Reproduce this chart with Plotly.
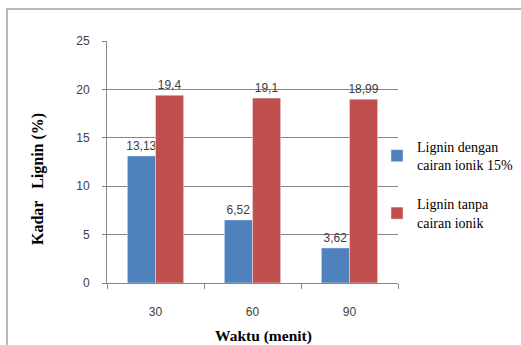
import plotly.graph_objects as go

categories = ["30", "60", "90"]
lignin_dengan = [13.13, 6.52, 3.62]
lignin_tanpa = [19.4, 19.1, 18.99]
series_names = ["Lignin dengan<br>cairan ionik 15%", "Lignin tanpa<br>cairan ionik"]
y_ticks = [0, 5, 10, 15, 20, 25]

def fmt(v):
    return f"{v:g}".replace(".", ",")

label_font = dict(family="Liberation Sans", size=12, color="#404040")
serif = "Liberation Serif"

fig = go.Figure()
fig.add_trace(go.Bar(
    x=categories, y=lignin_dengan, name=series_names[0], legendgroup="a",
    marker=dict(color="#4F81BD"),
    text=[fmt(v) for v in lignin_dengan], textposition="outside",
    textfont=label_font, cliponaxis=False, constraintext="none",
))
fig.add_trace(go.Bar(
    x=categories, y=lignin_tanpa, name=series_names[1], legendgroup="b",
    marker=dict(color="#C0504D"),
    text=[fmt(v) for v in lignin_tanpa], textposition="outside",
    textfont=label_font, cliponaxis=False, constraintext="none",
))

L, R, T, B = 107, 123, 41, 62
W, H = 521, 345
pw, ph = W - L - R, H - T - B

def px2x(px):
    return (px - L) / pw

def py2y(py):
    return (H - B - py) / ph

fig.update_layout(
    width=W, height=H,
    margin=dict(l=L, r=R, t=T, b=B, autoexpand=False),
    paper_bgcolor="white", plot_bgcolor="white",
    barmode="group", bargap=0.42, bargroupgap=0,
    showlegend=True,
    legend=dict(
        xref="container", yref="container",
        x=377 / W, y=1 - 131 / H, xanchor="left", yanchor="top",
        font=dict(family=serif, size=14, color="#000000"),
        itemwidth=30, traceorder="grouped", tracegroupgap=18,
        bgcolor="rgba(0,0,0,0)",
    ),
    xaxis=dict(
        type="category", showgrid=False,
        showline=True, linecolor="#868686", linewidth=1,
        ticks="outside", ticklen=5, tickcolor="#868686", tickson="boundaries",
        tickfont=label_font, ticklabelstandoff=18,
    ),
    yaxis=dict(
        range=[0, 25], tickvals=y_ticks,
        showgrid=True, gridcolor="#868686", gridwidth=1,
        showline=True, linecolor="#868686", linewidth=1,
        ticks="outside", ticklen=4, tickcolor="#868686",
        tickfont=label_font, ticklabelstandoff=10,
        zeroline=False,
    ),
    annotations=[
        dict(text="<b>Kadar   Lignin (%)</b>", textangle=-90, x=px2x(38), y=py2y(179),
             xref="paper", yref="paper", xanchor="center", yanchor="middle", showarrow=False,
             font=dict(family=serif, size=16, color="#000000")),
        dict(text="<b>Waktu (menit)</b>", x=px2x(263), y=py2y(336),
             xref="paper", yref="paper", xanchor="center", yanchor="middle", showarrow=False,
             font=dict(family=serif, size=15.5, color="#000000")),
    ],
    shapes=[
        dict(type="rect", xref="paper", yref="paper",
             x0=px2x(7), x1=px2x(530), y0=py2y(360), y1=py2y(9),
             line=dict(color="#A0A0A0", width=1.5), fillcolor="rgba(0,0,0,0)", layer="below"),
    ],
)

fig.write_html("out.html")
